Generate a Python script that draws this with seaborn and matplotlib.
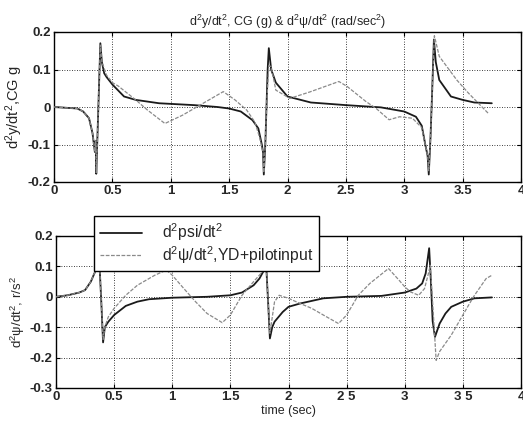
import matplotlib
matplotlib.use("Agg")
import matplotlib.pyplot as plt
import seaborn as sns
import pandas as pd

# ---------------- data ----------------
# top panel: lateral acceleration at CG (dark) and YD+pilot input (gray)
t_top_a = [0, 0.1, 0.2, 0.25, 0.3, 0.33, 0.35, 0.357, 0.362, 0.368, 0.38, 0.39, 0.397, 0.41, 0.43,
           0.45, 0.5, 0.6, 0.7, 0.9, 1.2, 1.4, 1.5, 1.6, 1.7, 1.75, 1.78, 1.79, 1.797, 1.81, 1.82,
           1.83, 1.84, 1.86, 1.9, 2.0, 2.2, 2.5, 2.8, 3.0, 3.1, 3.15, 3.18, 3.2, 3.21, 3.225, 3.24,
           3.254, 3.27, 3.3, 3.4, 3.5, 3.6, 3.75]
y_top_a = [0, -0.002, -0.004, -0.012, -0.03, -0.07, -0.12, -0.09, -0.178, -0.12, 0.0, 0.1, 0.17,
           0.12, 0.09, 0.08, 0.06, 0.028, 0.019, 0.01, 0.005, 0.0, -0.004, -0.012, -0.035, -0.057,
           -0.1, -0.12, -0.18, -0.1, 0.0, 0.1, 0.157, 0.1, 0.065, 0.028, 0.012, 0.005, -0.001,
           -0.012, -0.026, -0.05, -0.1, -0.13, -0.18, -0.08, 0.05, 0.18, 0.12, 0.072, 0.028,
           0.019, 0.012, 0.01]
t_top_b = [0, 0.1, 0.2, 0.25, 0.3, 0.33, 0.35, 0.357, 0.362, 0.368, 0.38, 0.39, 0.397, 0.41, 0.45,
           0.5, 0.55, 0.7, 0.8, 0.95, 1.1, 1.25, 1.45, 1.55, 1.65, 1.72, 1.76, 1.79, 1.797, 1.81,
           1.82, 1.84, 1.86, 1.9, 2.02, 2.19, 2.44, 2.51, 2.67, 2.76, 2.87, 2.96, 3.07, 3.15, 3.18,
           3.2, 3.21, 3.225, 3.24, 3.258, 3.3, 3.45, 3.55, 3.72]
y_top_b = [0, -0.002, -0.004, -0.012, -0.03, -0.07, -0.12, -0.09, -0.175, -0.12, 0.0, 0.1, 0.165,
           0.12, 0.085, 0.065, 0.056, 0.019, -0.008, -0.044, -0.022, 0.005, 0.041, 0.019, -0.008,
           -0.04, -0.08, -0.12, -0.175, -0.1, 0.0, 0.11, 0.108, 0.045, 0.023, 0.04, 0.068, 0.055,
           0.015, -0.004, -0.034, -0.026, -0.03, -0.055, -0.1, -0.13, -0.17, -0.08, 0.05, 0.19,
           0.135, 0.072, 0.037, -0.017]

# bottom panel: yaw acceleration (dark) and YD+pilot input (gray)
t_bot_a = [0, 0.1, 0.2, 0.25, 0.3, 0.33, 0.36, 0.375, 0.39, 0.405, 0.42, 0.45, 0.5, 0.6, 0.7, 0.8,
           1.0, 1.3, 1.5, 1.6, 1.7, 1.75, 1.79, 1.81, 1.825, 1.84, 1.86, 1.88, 1.95, 2.0, 2.1, 2.3,
           2.5, 2.8, 3.0, 3.1, 3.15, 3.18, 3.21, 3.225, 3.24, 3.26, 3.3, 3.35, 3.4, 3.5, 3.6, 3.75]
y_bot_a = [0, 0.005, 0.014, 0.022, 0.05, 0.077, 0.1, 0.1, -0.02, -0.15, -0.1, -0.082, -0.06,
           -0.03, -0.016, -0.008, -0.003, 0.0, 0.005, 0.014, 0.038, 0.06, 0.088, 0.09, -0.02,
           -0.137, -0.1, -0.082, -0.05, -0.033, -0.022, -0.005, 0.0, 0.003, 0.014, 0.027, 0.044,
           0.077, 0.16, 0.05, -0.08, -0.132, -0.088, -0.055, -0.033, -0.016, -0.005, -0.002]
t_bot_b = [0, 0.1, 0.2, 0.25, 0.3, 0.33, 0.36, 0.375, 0.39, 0.405, 0.42, 0.45, 0.5, 0.6, 0.7, 0.85,
           0.95, 1.0, 1.1, 1.2, 1.3, 1.43, 1.5, 1.6, 1.7, 1.77, 1.8, 1.81, 1.825, 1.84, 1.88, 1.92,
           2.0, 2.1, 2.2, 2.3, 2.43, 2.5, 2.6, 2.7, 2.86, 2.95, 3.0, 3.05, 3.12, 3.17, 3.2, 3.22,
           3.245, 3.27, 3.3, 3.4, 3.5, 3.55, 3.6, 3.7, 3.75]
y_bot_b = [0, 0.005, 0.014, 0.022, 0.05, 0.077, 0.1, 0.1, -0.02, -0.14, -0.1, -0.066, -0.038,
           0.005, 0.038, 0.071, 0.088, 0.071, 0.027, -0.016, -0.055, -0.085, -0.06, 0.005, 0.05,
           0.08, 0.095, 0.09, -0.02, -0.12, -0.016, 0.005, -0.005, -0.022, -0.038, -0.06, -0.088,
           -0.06, 0.005, 0.044, 0.093, 0.055, 0.033, 0.016, 0.005, 0.027, 0.071, 0.104, -0.05,
           -0.209, -0.18, -0.126, -0.06, -0.027, 0.005, 0.06, 0.071]

x_ticks = [0, 0.5, 1, 1.5, 2, 2.5, 3, 3.5, 4]
x_tick_labels = ["0", "0.5", "1", "1.5", "2", "2.5", "3", "3.5", "4"]
x_tick_labels_bot = ["0", "0.5", "1", "1.5", "2", "2 5", "3", "3 5", "4"]
y_ticks_top = [-0.2, -0.1, 0, 0.1, 0.2]
y_tick_labels_top = ["-0.2", "-0.1", "0", "0.1", "0.2"]
y_ticks_bot = [-0.3, -0.2, -0.1, 0, 0.1, 0.2]
y_tick_labels_bot = ["-0.3", "-0.2", "-0.1", "0", "0.1", "0.2"]

legend_labels = [r"d$^2$psi/dt$^2$", r"d$^2$ψ/dt$^2$,YD+pilotinput"]
title_text = r"d$^2$y/dt$^2$, CG (g) & d$^2$ψ/dt$^2$ (rad/sec$^2$)"
ylabel_top = r"d$^2$y/dt$^2$,CG g"
ylabel_bot = r"d$^2$ψ/dt$^2$, r/s$^2$"
xlabel_bot = "time (sec)"

# ---------------- plot ----------------
sns.set_style("white")
plt.rcParams['font.family'] = ['Liberation Sans', 'DejaVu Sans']
plt.rcParams['mathtext.fontset'] = 'custom'
plt.rcParams['mathtext.rm'] = 'Liberation Sans'
plt.rcParams['mathtext.it'] = 'Liberation Sans:italic'
plt.rcParams['mathtext.bf'] = 'Liberation Sans:bold'
plt.rcParams['mathtext.default'] = 'regular'

W, H = 523, 421
fig = plt.figure(figsize=(W / 100, H / 100), dpi=100)
ax1 = fig.add_axes([54 / W, 1 - 182 / H, (521 - 54) / W, 150 / H])
ax2 = fig.add_axes([56 / W, 1 - 388 / H, (521 - 56) / W, 152 / H])

dark = "#1a1a1a"
gray = "#8a8a8a"

def draw(ax, ta, ya, tb, yb):
    da = pd.DataFrame({"t": ta, "v": ya})
    db = pd.DataFrame({"t": tb, "v": yb})
    sns.lineplot(data=da, x="t", y="v", ax=ax, color=dark, lw=1.3, estimator=None,
                 label=legend_labels[0], zorder=3)
    sns.lineplot(data=db, x="t", y="v", ax=ax, color=gray, lw=0.9, estimator=None,
                 linestyle=(0, (3, 1.2)), label=legend_labels[1], zorder=4)

draw(ax1, t_top_a, y_top_a, t_top_b, y_top_b)
draw(ax2, t_bot_a, y_bot_a, t_bot_b, y_bot_b)

for ax, yt, ytl, xtl, ylim in [(ax1, y_ticks_top, y_tick_labels_top, x_tick_labels, (-0.2, 0.2)),
                                (ax2, y_ticks_bot, y_tick_labels_bot, x_tick_labels_bot, (-0.3, 0.2))]:
    ax.set_xlim(0, 4)
    ax.set_ylim(*ylim)
    ax.set_xticks(x_ticks)
    ax.set_xticklabels(xtl, fontsize=9.5, fontweight="bold")
    ax.set_yticks(yt)
    ax.set_yticklabels(ytl, fontsize=9.5, fontweight="bold")
    ax.tick_params(direction="in", length=3, width=0.8, pad=2.5, color="black",
                   top=True, right=True, bottom=True, left=True)
    ax.grid(True, color="black", linestyle=(0, (1, 2)), lw=0.6)
    for s in ax.spines.values():
        s.set_visible(True)
        s.set_color("black")
        s.set_linewidth(1.0)
    ax.set_xlabel("")

ax1.get_legend().remove()
ax1.set_title(title_text, fontsize=9, pad=4)
ax1.set_ylabel(ylabel_top, fontsize=10.5, labelpad=2)
ax2.set_ylabel(ylabel_bot, fontsize=9.5, labelpad=2)
ax2.set_xlabel(xlabel_bot, fontsize=9, labelpad=1)

leg = ax2.legend(loc="upper left", bbox_to_anchor=(0.082, 1.13), fontsize=11.3,
                 frameon=True, fancybox=False, framealpha=1, edgecolor="black",
                 borderpad=0.35, handlelength=2.7, handletextpad=1.3, labelspacing=0.05,
                 borderaxespad=0)
leg.get_frame().set_linewidth(1.0)
leg.set_zorder(10)

fig.savefig("out.png", dpi=100)
